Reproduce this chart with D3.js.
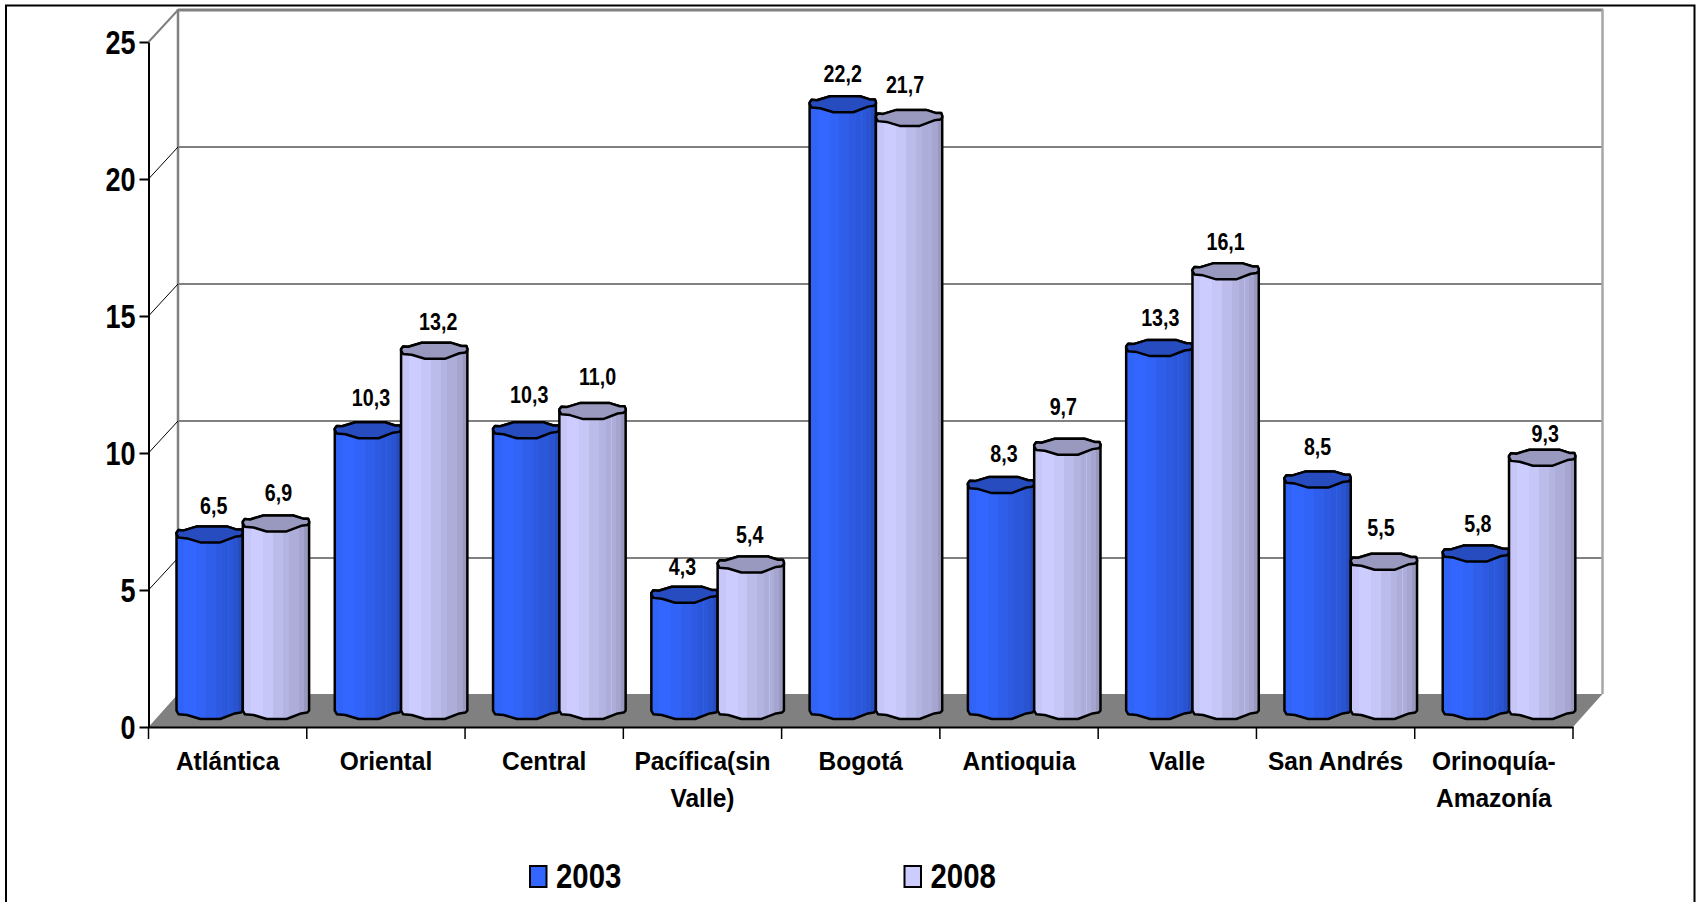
<!DOCTYPE html>
<html><head><meta charset="utf-8">
<script src="https://cdn.jsdelivr.net/npm/d3@7/dist/d3.min.js"></script>
<style>
html,body{margin:0;padding:0;background:#fff;overflow:hidden}
svg{display:block}
.narrow,.wide{font-family:"Liberation Sans",Arial,sans-serif;font-weight:700;fill:#000}
</style></head><body>
<svg id="c" width="1698" height="902"></svg>
<script>
const categories=["Atlántica","Oriental","Central","Pacífica(sin\nValle)","Bogotá","Antioquia","Valle","San Andrés","Orinoquía-\nAmazonía"];
const years=["2003","2008"];
const values2003=[6.5,10.3,10.3,4.3,22.2,8.3,13.3,8.5,5.8];
const values2008=[6.9,13.2,11.0,5.4,21.7,9.7,16.1,5.5,9.3];
const valueLabels2003=["6,5","10,3","10,3","4,3","22,2","8,3","13,3","8,5","5,8"];
const valueLabels2008=["6,9","13,2","11,0","5,4","21,7","9,7","16,1","5,5","9,3"];
const yTicks=[0,5,10,15,20,25];

const svg=d3.select("#c");
const L=148.5,R=1573,Y0=727,Y25=42,DX=29.5,DY=-33;
const x=d3.scaleBand().domain(categories).range([L,R]);
const y=d3.scaleLinear().domain([0,25]).range([Y0,Y25]);
const BW=66.3, PAD=28, MID=-16, TOPDROP=1.5, HH=8;
const NARROW=.82;
// hand placement of the data labels, which sit unevenly in the original
const labelNudgeX=[[4,3,3,-2,0,3,1,0,2],[2.5,4,5,-1,-4,-4,0,-3,3]];
const labelNudgeY=[[1,-3,-6,1,-1,-2,-1,-4,-1],[2,3,-2,2,-1,-8,3,-2,8]];

svg.append("path").attr("d",`M6,902V5.5H1694.5V902`).attr("fill","none").attr("stroke","#000").attr("stroke-width",2);

const wall=svg.append("g");
wall.selectAll("line.g").data(yTicks.slice(1)).join("line")
 .attr("x1",L+DX).attr("x2",R+DX+.5)
 .attr("y1",d=>y(d)+DY+1).attr("y2",d=>y(d)+DY+1)
 .attr("stroke","#808080").attr("stroke-width",d=>d===25?3:2);
wall.append("line").attr("x1",L+DX).attr("x2",L+DX).attr("y1",y(25)+DY).attr("y2",Y0+DY).attr("stroke","#808080").attr("stroke-width",2.5);
wall.append("line").attr("x1",R+DX).attr("x2",R+DX).attr("y1",y(25)+DY).attr("y2",Y0+DY).attr("stroke","#a6a6a6").attr("stroke-width",2.5);
wall.selectAll("line.d").data(yTicks.slice(1)).join("line")
 .attr("x1",L).attr("x2",L+DX).attr("y1",d=>y(d)).attr("y2",d=>y(d)+DY+1)
 .attr("stroke",d=>d===25?"#808080":"#000").attr("stroke-width",d=>d===25?2:1);
svg.append("path").attr("d",`M${L},${Y0}L${L+DX},${Y0+DY}H${R+DX}L${R},${Y0}Z`).attr("fill","#808080");

const ya=d3.axisLeft(y).tickValues(yTicks).tickSize(9).tickPadding(3).tickSizeOuter(0);
const gy=svg.append("g").attr("transform",`translate(${L},0)`).call(ya);
gy.selectAll("path,line").attr("stroke","#000").attr("stroke-width",2);
gy.selectAll("text").attr("class","narrow").style("font-size","33px").attr("dy",null).attr("x",0).attr("y",0)
 .attr("transform",`translate(-13,11) scale(${NARROW},1)`);

const xa=d3.axisBottom(x).tickSize(0).tickFormat("").tickSizeOuter(0);
const gx=svg.append("g").attr("transform",`translate(0,${Y0})`).call(xa);
gx.selectAll("path").attr("stroke","#000").attr("stroke-width",2);
svg.append("g").selectAll("line").data([...categories.map(c=>x(c)),R]).join("line")
 .attr("x1",d=>d).attr("x2",d=>d).attr("y1",Y0).attr("y2",Y0+12).attr("stroke","#000").attr("stroke-width",1.5);
const catText=svg.append("g").selectAll("text").data(categories).join("text")
 .attr("class","wide").attr("text-anchor","middle").style("font-size","25px")
 .attr("transform",d=>`translate(${x(d)+x.bandwidth()/2},770) scale(.98,1)`);
catText.selectAll("tspan").data(d=>d.split("\n")).join("tspan").attr("x",0).attr("y",(d,i)=>i*37.5).text(d=>d);

const upper=[[0,-.2],[.03,-.55],[.11,-.5],[.31,-1],[.76,-1],[.91,-.6],[.985,-.6],[1,-.25]];
const lower=[[1,-.05],[.97,.2],[.88,.3],[.66,1],[.36,1],[.16,.5],[.03,.4],[0,-.05]];
const facets=[[0,.97],[.12,1],[.3,.97],[.45,.92],[.6,.88],[.7,.85],[.78,.92],[.79,.85],[.85,.81],[.93,.75]];
const colors=[{base:[0x33,0x66,0xff],cap:"#264cbf"},{base:[0xcc,0xcc,0xff],cap:"#9999bf"}];
const defs=svg.append("defs");
colors.forEach((c,i)=>{
  const g=defs.append("linearGradient").attr("id","f"+i).attr("x1",0).attr("x2",1).attr("y1",0).attr("y2",0);
  facets.forEach((f,k)=>{
    const col=`rgb(${c.base.map(v=>Math.round(v*f[1])).join(",")})`;
    g.append("stop").attr("offset",f[0]).attr("stop-color",col);
    g.append("stop").attr("offset",k+1<facets.length?facets[k+1][0]:1).attr("stop-color",col);
  });
});
const pt=(x0,yc)=>p=>[x0+p[0]*BW,yc+p[1]*HH];
const line=d3.line();
function body(x0,yt,yb){
  const top=upper.map(pt(x0,yt));
  const bot=lower.map(pt(x0,yb));
  return "M"+top.map(p=>p.join(",")).join("L")+"L"+line(bot).slice(1)+"Z";
}
function cap(x0,yc){
  return line([...upper,...lower].map(pt(x0,yc)))+"Z";
}
const series=[values2003,values2008];
const labels=[valueLabels2003,valueLabels2008];
const labelLift=[19.5,22.5];
series.forEach((vals,s)=>{
  const g=svg.append("g");
  const rows=vals.map((v,i)=>({v,i,c:categories[i],t:labels[s][i]}));
  const x0=d=>x(d.c)+PAD+s*BW;
  g.selectAll("path.b").data(rows).join("path").attr("class","b")
   .attr("d",d=>body(x0(d),y(d.v)+MID+TOPDROP,y(0)+MID))
   .attr("fill",`url(#f${s})`).attr("stroke","#000").attr("stroke-width",2.5).attr("stroke-linejoin","round");
  g.selectAll("path.t").data(rows).join("path").attr("class","t")
   .attr("d",d=>cap(x0(d),y(d.v)+MID+TOPDROP))
   .attr("fill",colors[s].cap).attr("stroke","#000").attr("stroke-width",2.5).attr("stroke-linejoin","round");
  g.selectAll("text").data(rows).join("text").attr("class","narrow").attr("text-anchor","middle")
   .style("font-size","24px")
   .attr("transform",d=>`translate(${x0(d)+BW/2+labelNudgeX[s][d.i]},${y(d.v)+MID-labelLift[s]+labelNudgeY[s][d.i]}) scale(${NARROW},1)`)
   .text(d=>d.t);
});

const legendX=d3.scaleOrdinal().domain(years).range([530,904.5]);
const lg=svg.append("g").selectAll("g").data(years).join("g").attr("transform",d=>`translate(${legendX(d)},0)`);
lg.append("rect").attr("x",0).attr("y",866).attr("width",16.5).attr("height",21)
 .attr("fill",(d,i)=>`rgb(${colors[i].base.join(",")})`).attr("stroke","#000").attr("stroke-width",2);
lg.append("text").attr("class","narrow").attr("transform",`translate(26,888) scale(.84,1)`).style("font-size","35px").text(d=>d);
</script>
</body></html>
